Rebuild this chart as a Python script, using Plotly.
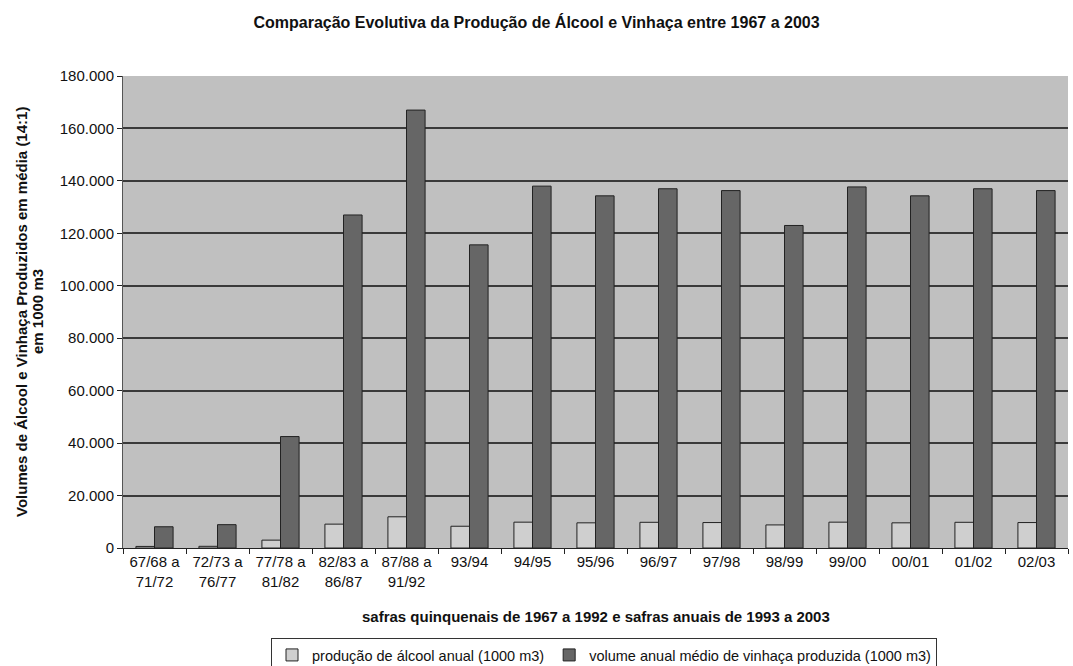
import plotly.graph_objects as go

categories = ["67/68 a<br>71/72", "72/73 a<br>76/77", "77/78 a<br>81/82", "82/83 a<br>86/87",
              "87/88 a<br>91/92", "93/94", "94/95", "95/96", "96/97", "97/98", "98/99",
              "99/00", "00/01", "01/02", "02/03"]
alcool = [600, 640, 3000, 9100, 11900, 8300, 9850, 9600, 9800, 9700, 8800, 9850, 9600, 9800, 9700]
vinhaca = [8100, 8900, 42500, 127000, 167000, 115600, 138000, 134300, 137000, 136300, 123000,
           137700, 134300, 137000, 136300]

FONT = "Liberation Sans, Arial, sans-serif"

fig = go.Figure()
fig.add_trace(go.Bar(x=categories, y=alcool, name="produção de álcool anual (1000 m3)",
                     marker=dict(color="#cfcfcf", line=dict(color="#222222", width=1))))
fig.add_trace(go.Bar(x=categories, y=vinhaca, name="volume anual médio de vinhaça produzida (1000 m3)",
                     marker=dict(color="#666666", line=dict(color="#222222", width=1))))

fig.update_layout(
    width=1073, height=666,
    margin=dict(l=123, r=5, t=76, b=118, autoexpand=False),
    paper_bgcolor="white", plot_bgcolor="#c0c0c0",
    font=dict(family=FONT, size=15, color="#111111"),
    separators=",.",
    barmode="group", bargap=0.41, bargroupgap=0,
    title=dict(text="<b>Comparação Evolutiva da Produção de Álcool e Vinhaça entre 1967 a 2003</b>",
               x=0.5, xref="container", y=1 - 22 / 666, yref="container", yanchor="middle",
               font=dict(size=16, family=FONT, color="#111111")),
    legend=dict(orientation="h", x=0.509, xanchor="center", y=-0.1907, yanchor="top",
                bordercolor="#333333", borderwidth=1, font=dict(size=14.5, family=FONT),
                itemwidth=30, tracegroupgap=0),
    xaxis=dict(type="category", tickson="boundaries", ticks="outside", ticklen=5,
               tickcolor="#222222", showline=True, linecolor="#222222", linewidth=1,
               showgrid=False, tickfont=dict(size=15)),
    yaxis=dict(range=[0, 180000], dtick=20000, tickformat=",.0f", ticks="outside", ticklen=5,
               tickcolor="#222222", showline=True, linecolor="#555555", linewidth=1,
               gridcolor="#3a3a3a", gridwidth=1.5, zeroline=False, tickfont=dict(size=15)),
    annotations=[
        dict(text="<b>safras quinquenais de 1967 a 1992 e safras anuais de 1993 a 2003</b>",
             x=0.5, xref="paper", y=-0.145, yref="paper", yanchor="middle", showarrow=False,
             font=dict(size=15, family=FONT)),
        dict(text="<b>Volumes de Álcool e Vinhaça Produzidos em média (14:1)</b>",
             x=(21 - 123) / 945, xref="paper", y=0.5, yref="paper", xanchor="center", yanchor="middle",
             textangle=-90, showarrow=False, font=dict(size=15, family=FONT)),
        dict(text="<b>em 1000 m3</b>",
             x=(37 - 123) / 945, xref="paper", y=0.5, yref="paper", xanchor="center", yanchor="middle",
             textangle=-90, showarrow=False, font=dict(size=15, family=FONT)),
    ],
)

fig.write_html("out.html")
